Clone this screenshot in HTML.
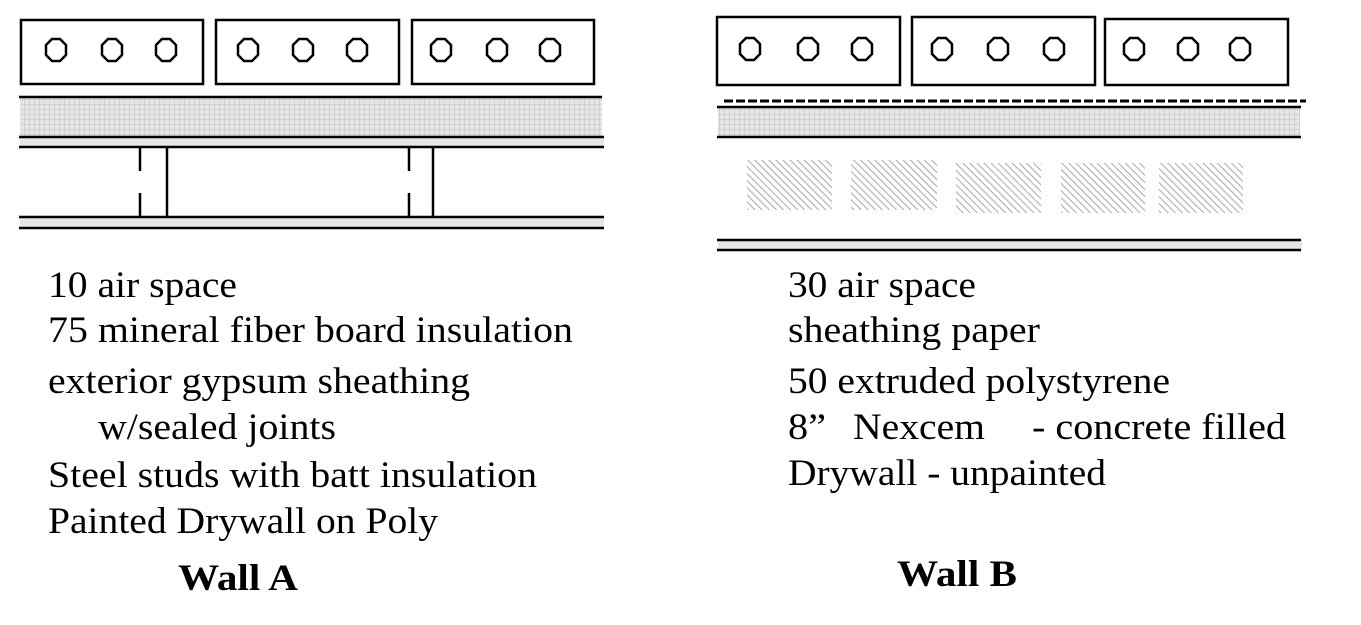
<!DOCTYPE html>
<html><head><meta charset="utf-8"><style>
html,body{margin:0;padding:0;background:#fff;}
svg{display:block;}
text{font-family:"Liberation Serif","Times New Roman",serif;fill:#000;}
</style></head><body>
<svg width="1361" height="625" viewBox="0 0 1361 625" xmlns="http://www.w3.org/2000/svg">
<defs>
<pattern id="grid" width="5" height="5" patternUnits="userSpaceOnUse">
<rect width="5" height="5" fill="#e6e6e6"/>
<path d="M5 0V5M0 5H5" stroke="#b4b4b4" stroke-width="0.8"/>
</pattern>
<pattern id="hatch" width="5" height="5" patternUnits="userSpaceOnUse" patternTransform="rotate(-45)">
<rect width="5" height="5" fill="#fff"/>
<line x1="0" y1="0" x2="0" y2="5" stroke="#a8a8a8" stroke-width="2"/>
</pattern>
<g id="oct"><polygon points="-4,-11 4,-11 10,-5 10,5 4,11 -4,11 -10,5 -10,-5" fill="none" stroke="#000" stroke-width="2.5"/></g>
</defs>

<!-- Wall A -->
<g fill="none" stroke="#000" stroke-width="2.5">
<rect x="21" y="20" width="182" height="64"/>
<rect x="216" y="20" width="183" height="64"/>
<rect x="412" y="20" width="182" height="64"/>
</g>
<g>
<use href="#oct" x="56" y="50"/><use href="#oct" x="112" y="50"/><use href="#oct" x="166" y="50"/>
<use href="#oct" x="248" y="50"/><use href="#oct" x="303" y="50"/><use href="#oct" x="357" y="50"/>
<use href="#oct" x="441" y="50"/><use href="#oct" x="497" y="50"/><use href="#oct" x="550" y="50"/>
</g>
<rect x="20" y="98" width="582" height="39" fill="url(#grid)"/>
<rect x="20" y="137" width="584" height="10" fill="#e6e6e6"/>
<rect x="20" y="217" width="584" height="11" fill="#e6e6e6"/>
<g stroke="#000" stroke-width="2.5">
<line x1="19" y1="97" x2="602" y2="97"/>
<line x1="19" y1="137" x2="604" y2="137"/>
<line x1="19" y1="147" x2="604" y2="147"/>
<line x1="19" y1="217" x2="604" y2="217"/>
<line x1="19" y1="228" x2="604" y2="228"/>
<line x1="140" y1="147" x2="140" y2="171"/><line x1="140" y1="193" x2="140" y2="217"/>
<line x1="167" y1="147" x2="167" y2="217"/>
<line x1="409" y1="147" x2="409" y2="171"/><line x1="409" y1="193" x2="409" y2="217"/>
<line x1="433" y1="147" x2="433" y2="217"/>
</g>

<!-- Wall B -->
<g fill="none" stroke="#000" stroke-width="2.5">
<rect x="717" y="17" width="183" height="68"/>
<rect x="912" y="17" width="183" height="68"/>
<rect x="1105" y="19" width="183" height="66"/>
</g>
<g>
<use href="#oct" x="750" y="49"/><use href="#oct" x="808" y="49"/><use href="#oct" x="862" y="49"/>
<use href="#oct" x="942" y="49"/><use href="#oct" x="998" y="49"/><use href="#oct" x="1054" y="49"/>
<use href="#oct" x="1134" y="49"/><use href="#oct" x="1188" y="49"/><use href="#oct" x="1240" y="49"/>
</g>
<line x1="724" y1="101" x2="1306" y2="101" stroke="#000" stroke-width="3" stroke-dasharray="9,3"/>
<rect x="718" y="108" width="582" height="29" fill="url(#grid)"/>
<rect x="718" y="240" width="584" height="10" fill="#e6e6e6"/>
<g stroke="#000" stroke-width="2.5">
<line x1="717" y1="107" x2="1301" y2="107"/>
<line x1="717" y1="137" x2="1301" y2="137"/>
<line x1="717" y1="240" x2="1301" y2="240"/>
<line x1="717" y1="250" x2="1301" y2="250"/>
</g>
<g fill="url(#hatch)">
<rect x="747" y="160" width="85" height="50"/>
<rect x="851" y="160" width="86" height="50"/>
<rect x="956" y="163" width="85" height="50"/>
<rect x="1061" y="163" width="84" height="50"/>
<rect x="1159" y="163" width="84" height="50"/>
</g>

<!-- Text Wall A -->
<g font-size="37">
<text x="48" y="297" textLength="189" lengthAdjust="spacingAndGlyphs">10 air space</text>
<text x="48" y="342" textLength="525" lengthAdjust="spacingAndGlyphs">75 mineral fiber board insulation</text>
<text x="48" y="393" textLength="422" lengthAdjust="spacingAndGlyphs">exterior gypsum sheathing</text>
<text x="98" y="439" textLength="238" lengthAdjust="spacingAndGlyphs">w/sealed joints</text>
<text x="48" y="487" textLength="489" lengthAdjust="spacingAndGlyphs">Steel studs with batt insulation</text>
<text x="48" y="533" textLength="390" lengthAdjust="spacingAndGlyphs">Painted Drywall on Poly</text>
<text x="178" y="590" font-weight="bold" textLength="120" lengthAdjust="spacingAndGlyphs">Wall A</text>
</g>
<!-- Text Wall B -->
<g font-size="37">
<text x="788" y="297" textLength="188" lengthAdjust="spacingAndGlyphs">30 air space</text>
<text x="788" y="342" textLength="252" lengthAdjust="spacingAndGlyphs">sheathing paper</text>
<text x="788" y="393" textLength="382" lengthAdjust="spacingAndGlyphs">50 extruded polystyrene</text>
<text x="788" y="439" textLength="38" lengthAdjust="spacingAndGlyphs">8”</text>
<text x="853" y="439" textLength="132" lengthAdjust="spacingAndGlyphs">Nexcem</text>
<text x="1032" y="439" textLength="254" lengthAdjust="spacingAndGlyphs">- concrete filled</text>
<text x="788" y="485" textLength="318" lengthAdjust="spacingAndGlyphs">Drywall - unpainted</text>
<text x="897" y="586" font-weight="bold" textLength="120" lengthAdjust="spacingAndGlyphs">Wall B</text>
</g>
</svg>
</body></html>
